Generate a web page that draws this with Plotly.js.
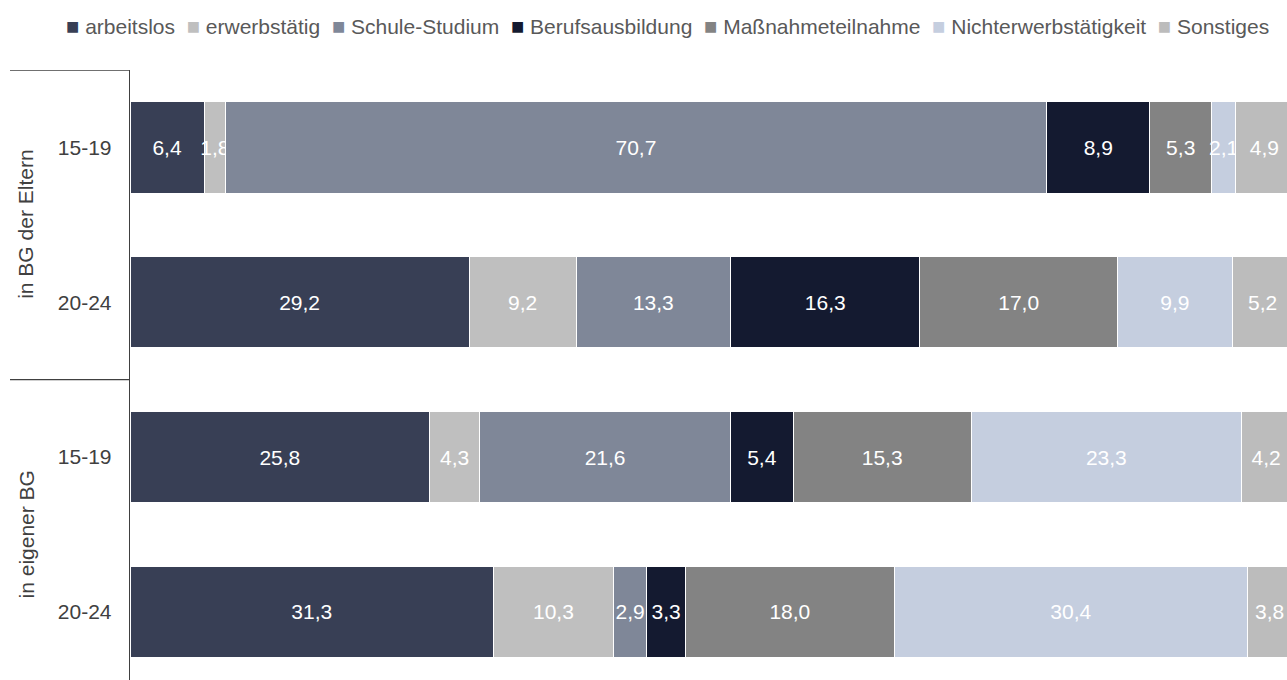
<!DOCTYPE html>
<html>
<head>
<meta charset="utf-8">
<script src="https://cdn.plot.ly/plotly-3.0.1.min.js"></script>
<style>html,body{margin:0;padding:0;background:#fff;}#chart{width:1287px;height:680px;}</style>
</head>
<body>
<div id="chart"></div>
<script>
var groups = ["in BG der Eltern", "in BG der Eltern", "in eigener BG", "in eigener BG"];
var ages = ["15-19", "20-24", "15-19", "20-24"];
var seriesNames = ["arbeitslos", "erwerbstätig", "Schule-Studium", "Berufsausbildung", "Maßnahmeteilnahme", "Nichterwerbstätigkeit", "Sonstiges"];
var arbeitslos = [6.4, 29.2, 25.8, 31.3];
var erwerbstaetig = [1.8, 9.2, 4.3, 10.3];
var schuleStudium = [70.7, 13.3, 21.6, 2.9];
var berufsausbildung = [8.9, 16.3, 5.4, 3.3];
var massnahme = [5.3, 17.0, 15.3, 18.0];
var nichterwerb = [2.1, 9.9, 23.3, 30.4];
var sonstiges = [4.9, 5.2, 4.2, 3.8];
var seriesValues = [arbeitslos, erwerbstaetig, schuleStudium, berufsausbildung, massnahme, nichterwerb, sonstiges];
var colors = ["#383f55", "#bfbfbf", "#7f8798", "#141a30", "#838383", "#c5cedf", "#bcbcbc"];

var keys = groups.map(function(g, i){ return g + " " + ages[i]; });
var FONT = "Liberation Sans, Arial, sans-serif";
var FS = 21;

var traces = seriesNames.map(function(name, k){
  return {
    type: "bar", orientation: "h", name: name,
    x: seriesValues[k], y: keys,
    marker: {color: colors[k], line: {color: "#ffffff", width: 1}},
    texttemplate: "%{x:.1f}", textposition: "inside", insidetextanchor: "middle",
    constraintext: "none", textangle: 0, cliponaxis: true,
    textfont: {family: FONT, size: FS, color: "#ffffff"},
    hoverinfo: "x+name", showlegend: false
  };
});

var plotW = 1287 - 130;
var plotH = 680 - 70;
var annotations = [];
var shapes = [];
var seen = {};
groups.forEach(function(g, i){
  if (seen[g] === undefined) { seen[g] = [i, i]; } else { seen[g][1] = i; }
});
Object.keys(seen).forEach(function(g){
  var r = seen[g];
  annotations.push({
    text: g, xref: "paper", x: 0, xshift: -104, xanchor: "center",
    yref: "y", y: (r[0] + r[1]) / 2, yanchor: "middle",
    textangle: -90, showarrow: false,
    font: {family: FONT, size: FS, color: "#404040"}
  });
  shapes.push({
    type: "line", xref: "paper", x0: -120 / plotW, x1: 0,
    yref: "y", y0: r[0] - 0.5, y1: r[0] - 0.5,
    line: {color: "#404040", width: 1.3}
  });
});

// legend line built from series names and colours
var NB = "\u00a0";
var legendText = seriesNames.map(function(name, k){
  return '<span style="color:' + colors[k] + ';font-size:22px">\u25A0</span>' + NB + name;
}).join(NB + NB);
annotations.push({
  text: legendText, xref: "paper", x: (667 - 130) / plotW, xanchor: "center",
  yref: "paper", y: 1 + (70 - 27) / plotH, yanchor: "middle",
  showarrow: false, font: {family: FONT, size: FS, color: "#595959"}
});

var layout = {
  width: 1287, height: 680,
  margin: {l: 130, r: 0, t: 70, b: 0, pad: 0},
  paper_bgcolor: "#ffffff", plot_bgcolor: "#ffffff",
  separators: ",.",
  barmode: "stack", bargap: 0.41,
  font: {family: FONT, size: FS, color: "#404040"},
  showlegend: false,
  xaxis: {range: [0, 99.6], visible: false, fixedrange: true},
  yaxis: {
    type: "category", categoryorder: "array", categoryarray: keys,
    tickvals: keys, ticktext: ages,
    range: [3.44, -0.5], showline: true, linecolor: "#404040", linewidth: 1.3,
    ticks: "", ticklabelstandoff: 13, showgrid: false, zeroline: false,
    tickfont: {size: FS, color: "#404040"}
  },
  annotations: annotations,
  shapes: shapes
};

Plotly.newPlot("chart", traces, layout, {displayModeBar: false, staticPlot: true});
</script>
</body>
</html>
